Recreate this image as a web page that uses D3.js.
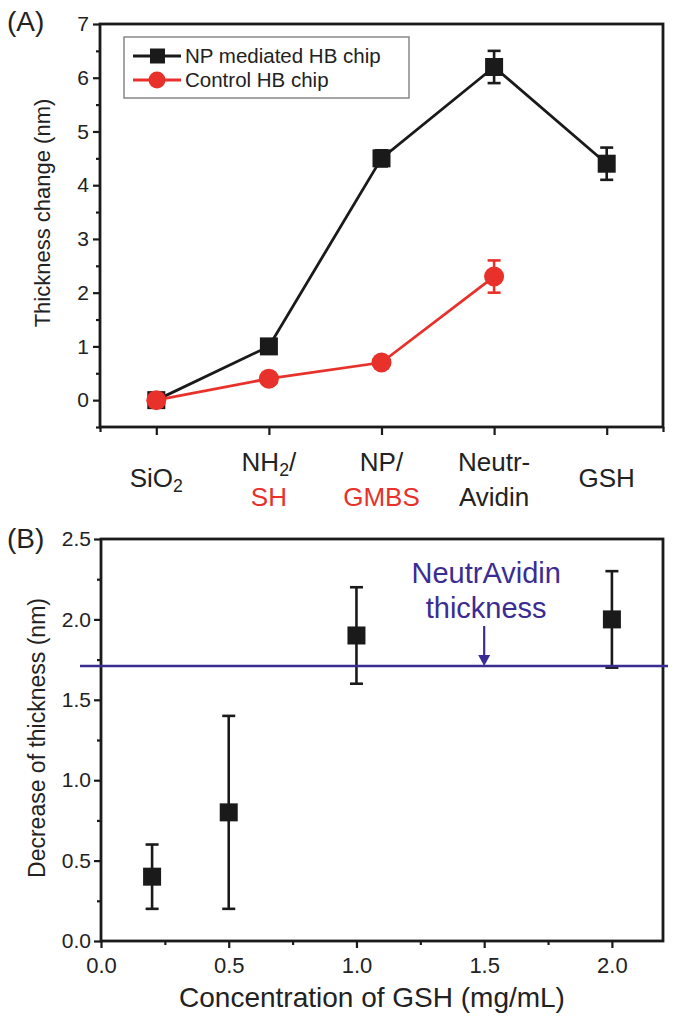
<!DOCTYPE html>
<html><head><meta charset="utf-8">
<script src="https://cdn.jsdelivr.net/npm/d3@7"></script>
<style>body{margin:0;background:#fff}svg{display:block;font-family:"Liberation Sans",Arial,sans-serif}</style>
</head><body><svg id="c" width="680" height="1027"></svg>
<script>
// ---- Panel A data ----
const catTop = ["SiO2", "NH2/", "NP/", "Neutr-", "GSH"];
const catBottom = ["", "SH", "GMBS", "Avidin", ""];
const npValues = [0, 1.0, 4.5, 6.2, 4.4];
const npErrors = [0, 0, 0.15, 0.3, 0.3];
const ctrlValues = [0, 0.4, 0.7, 2.3];
const ctrlErrors = [0, 0, 0, 0.3];
const yTicksA = [0, 1, 2, 3, 4, 5, 6, 7];
const seriesNames = ["NP mediated HB chip", "Control HB chip"];
// ---- Panel B data ----
const concB = [0.2, 0.5, 1.0, 2.0];
const decB = [0.4, 0.8, 1.9, 2.0];
const decErrB = [0.2, 0.6, 0.3, 0.3];
const xTicksB = [0.0, 0.5, 1.0, 1.5, 2.0];
const yTicksB = [0.0, 0.5, 1.0, 1.5, 2.0, 2.5];
const neutrAvidinThickness = 1.71;
const arrowX = 1.5;

const svg = d3.select("#c");
const RED = "#e8312a", BLUE = "#3b2c94", INK = "#1a1a1a";

function subText(sel, str) {
  const parts = str.split(/(\d)/).filter(s => s.length);
  let shifted = false;
  parts.forEach(p => {
    if (/^\d$/.test(p)) { sel.append("tspan").attr("font-size", "0.68em").attr("dy", 5).text(p); shifted = true; }
    else { const t = sel.append("tspan").text(p); if (shifted) { t.attr("dy", -5); shifted = false; } }
  });
}
function styleAxis(g) { g.select(".domain").remove(); g.selectAll("line").attr("stroke", INK).attr("stroke-width", 2.2); }

// ================= Panel A =================
const xA = d3.scaleLinear().domain([-0.5, 4.5]).range([100, 663]);
const yA = d3.scaleLinear().domain([-0.5, 7]).range([427, 24]);
const gA = svg.append("g");

gA.append("rect").attr("x", 100).attr("y", 24).attr("width", 563).attr("height", 403)
  .attr("fill", "none").attr("stroke", INK).attr("stroke-width", 2.8);

const yAxA = gA.append("g").attr("transform", "translate(100,0)")
  .call(d3.axisLeft(yA).tickValues(yTicksA).tickSize(7).tickPadding(4).tickFormat(d3.format("d")))
  .call(styleAxis);
yAxA.selectAll("text").attr("font-size", 21).attr("fill", "#222");
gA.append("g").attr("transform", "translate(100,0)")
  .call(d3.axisLeft(yA).tickValues(d3.range(-0.5, 7, 1)).tickSize(4).tickFormat("")).call(styleAxis);

gA.append("g").attr("transform", "translate(0,427)")
  .call(d3.axisBottom(xA).tickValues(d3.range(0, 5)).tickSize(8).tickFormat("")).call(styleAxis);
gA.append("g").attr("transform", "translate(0,427)")
  .call(d3.axisBottom(xA).tickValues([-0.5, 4.5]).tickSize(5).tickFormat("")).call(styleAxis);

catTop.forEach((t, i) => {
  const two = catBottom[i] !== "";
  const t1 = gA.append("text").attr("x", xA(i)).attr("y", two ? 471 : 487)
    .attr("text-anchor", "middle").attr("font-size", 26).attr("fill", "#222");
  subText(t1, t);
  if (two) {
    gA.append("text").attr("x", xA(i)).attr("y", 506).attr("text-anchor", "middle")
      .attr("font-size", 26).attr("fill", (i === 1 || i === 2) ? RED : "#222").text(catBottom[i]);
  }
});

gA.append("text").attr("transform", `translate(50,213) rotate(-90)`)
  .attr("text-anchor", "middle").attr("font-size", 22).attr("fill", "#222").text("Thickness change (nm)");

svg.append("text").attr("x", 7).attr("y", 31).attr("font-size", 28).attr("fill", "#222").text("(A)");

const lineA = d3.line().x((d, i) => xA(i)).y(d => yA(d));
gA.append("path").datum(npValues).attr("d", lineA).attr("fill", "none").attr("stroke", INK).attr("stroke-width", 2.8);
gA.append("path").datum(ctrlValues).attr("d", lineA).attr("fill", "none").attr("stroke", RED).attr("stroke-width", 2.8);

function errBar(g, x, y0, y1, color, cap) {
  g.append("line").attr("x1", x).attr("x2", x).attr("y1", y0).attr("y2", y1).attr("stroke", color).attr("stroke-width", 2.6);
  [y0, y1].forEach(y => g.append("line").attr("x1", x - cap).attr("x2", x + cap).attr("y1", y).attr("y2", y).attr("stroke", color).attr("stroke-width", 2.6));
}
npValues.forEach((v, i) => { if (npErrors[i] > 0) errBar(gA, xA(i), yA(v - npErrors[i]), yA(v + npErrors[i]), INK, 6.5); });
ctrlValues.forEach((v, i) => { if (ctrlErrors[i] > 0) errBar(gA, xA(i), yA(v - ctrlErrors[i]), yA(v + ctrlErrors[i]), RED, 6.5); });

gA.selectAll("rect.np").data(npValues).join("rect").attr("class", "np")
  .attr("x", (d, i) => xA(i) - 9).attr("y", d => yA(d) - 9).attr("width", 18).attr("height", 18).attr("fill", INK);
gA.selectAll("circle.ct").data(ctrlValues).join("circle").attr("class", "ct")
  .attr("cx", (d, i) => xA(i)).attr("cy", d => yA(d)).attr("r", 10).attr("fill", RED);

// legend
const lg = gA.append("g");
lg.append("rect").attr("x", 124).attr("y", 37).attr("width", 285).attr("height", 61)
  .attr("fill", "#fff").attr("stroke", "#888").attr("stroke-width", 1.5);
[0, 1].forEach(k => {
  const y = k === 0 ? 56 : 80;
  const col = k === 0 ? INK : RED;
  lg.append("line").attr("x1", 133).attr("x2", 181).attr("y1", y).attr("y2", y).attr("stroke", col).attr("stroke-width", 2.8);
  if (k === 0) lg.append("rect").attr("x", 150).attr("y", y - 7.5).attr("width", 15).attr("height", 15).attr("fill", col);
  else lg.append("circle").attr("cx", 157).attr("cy", y).attr("r", 8.5).attr("fill", col);
  lg.append("text").attr("x", 185).attr("y", y + 7).attr("font-size", 20.5).attr("fill", "#222").text(seriesNames[k]);
});

// ================= Panel B =================
const xB = d3.scaleLinear().domain([0, 2.2]).range([101, 663]);
const yB = d3.scaleLinear().domain([0, 2.5]).range([941, 539]);
const gB = svg.append("g");

gB.append("rect").attr("x", 101).attr("y", 539).attr("width", 562).attr("height", 402)
  .attr("fill", "none").attr("stroke", INK).attr("stroke-width", 2.8);

const yAxB = gB.append("g").attr("transform", "translate(101,0)")
  .call(d3.axisLeft(yB).tickValues(yTicksB).tickSize(7).tickPadding(3).tickFormat(d3.format(".1f")))
  .call(styleAxis);
yAxB.selectAll("text").attr("font-size", 21).attr("fill", "#222");
gB.append("g").attr("transform", "translate(101,0)")
  .call(d3.axisLeft(yB).tickValues(d3.range(0.25, 2.5, 0.5)).tickSize(4).tickFormat("")).call(styleAxis);

const xAxB = gB.append("g").attr("transform", "translate(0,941)")
  .call(d3.axisBottom(xB).tickValues(xTicksB).tickSize(7).tickPadding(9).tickFormat(d3.format(".1f")))
  .call(styleAxis);
xAxB.selectAll("text").attr("font-size", 22).attr("fill", "#222");
gB.append("g").attr("transform", "translate(0,941)")
  .call(d3.axisBottom(xB).tickValues(d3.range(0.25, 2.2, 0.5)).tickSize(4).tickFormat("")).call(styleAxis);

gB.append("text").attr("x", 372).attr("y", 1007).attr("text-anchor", "middle").attr("font-size", 28).attr("fill", "#222")
  .text("Concentration of GSH (mg/mL)");
gB.append("text").attr("transform", `translate(45,738) rotate(-90)`)
  .attr("text-anchor", "middle").attr("font-size", 23).attr("fill", "#222").text("Decrease of thickness (nm)");
svg.append("text").attr("x", 7).attr("y", 548).attr("font-size", 28).attr("fill", "#222").text("(B)");

concB.forEach((c, i) => errBar(gB, xB(c), yB(decB[i] - decErrB[i]), yB(decB[i] + decErrB[i]), INK, 6.5));
gB.selectAll("rect.pt").data(concB).join("rect").attr("class", "pt")
  .attr("x", d => xB(d) - 9).attr("y", (d, i) => yB(decB[i]) - 9).attr("width", 18).attr("height", 18).attr("fill", INK);

const yRef = yB(neutrAvidinThickness);
gB.append("line").attr("x1", 80).attr("x2", 668).attr("y1", yRef).attr("y2", yRef)
  .attr("stroke", BLUE).attr("stroke-width", 2.6);
const ax = xB(arrowX);
gB.append("text").attr("x", ax + 2).attr("y", 583).attr("text-anchor", "middle").attr("font-size", 29).attr("fill", BLUE).text("NeutrAvidin");
gB.append("text").attr("x", ax + 2).attr("y", 618).attr("text-anchor", "middle").attr("font-size", 29).attr("fill", BLUE).text("thickness");
gB.append("line").attr("x1", ax).attr("x2", ax).attr("y1", 626).attr("y2", yRef - 9)
  .attr("stroke", BLUE).attr("stroke-width", 2.2);
gB.append("path").attr("d", `M${ax - 6},${yRef - 11} L${ax + 6},${yRef - 11} L${ax},${yRef} Z`).attr("fill", BLUE);
</script></body></html>
